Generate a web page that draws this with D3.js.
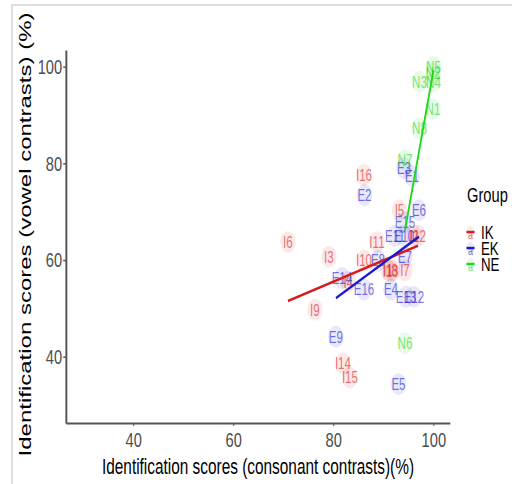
<!DOCTYPE html>
<html>
<head>
<meta charset="utf-8">
<script src="https://cdn.jsdelivr.net/npm/d3@7"></script>
<style>
  body { margin: 0; background: #fff; }
  svg { display: block; font-family: "Liberation Sans", Arial, sans-serif; }
</style>
</head>
<body>
<div id="chart"></div>
<script>
const groups = ['IK', 'EK', 'NE'];
const groupColors = ['#d91a1a', '#1a1acc', '#1ed81e'];

const ikIds = ['I1', 'I2', 'I3', 'I4', 'I5', 'I6', 'I7', 'I8', 'I9', 'I10', 'I11', 'I12', 'I13', 'I14', 'I15', 'I16'];
const ikConsonant = [90.9, 96.1, 79.1, 83.0, 93.2, 70.9, 94.3, 91.9, 76.3, 86.1, 88.7, 96.9, 91.4, 81.9, 83.3, 86.1];
const ikVowel = [57.9, 65.0, 60.7, 55.5, 70.3, 63.7, 57.9, 57.9, 49.7, 59.9, 63.7, 65.0, 57.7, 38.6, 35.7, 77.6];

const ekIds = ['E1', 'E2', 'E3', 'E4', 'E5', 'E6', 'E7', 'E8', 'E9', 'E10', 'E11', 'E12', 'E13', 'E14', 'E15', 'E16'];
const ekConsonant = [95.7, 86.2, 94.1, 91.5, 93.0, 97.1, 94.3, 88.9, 80.5, 94.1, 92.3, 96.1, 94.5, 81.7, 94.3, 86.1];
const ekVowel = [77.4, 73.4, 79.0, 53.9, 34.3, 70.3, 60.7, 59.9, 44.1, 65.0, 65.0, 52.4, 52.4, 56.3, 67.8, 53.9];

const neIds = ['N1', 'N2', 'N3', 'N4', 'N5', 'N6', 'N7', 'N8'];
const neConsonant = [99.9, 99.9, 97.2, 100, 100, 94.3, 94.3, 97.2];
const neVowel = [91.2, 98.6, 96.9, 96.9, 100, 42.8, 80.7, 87.2];

const xTicks = [40, 60, 80, 100];
const yTicks = [40, 60, 80, 100];

function linearFit(xs, ys) {
    const mx = d3.mean(xs), my = d3.mean(ys);
    const slope = d3.sum(xs, (x, i) => (x - mx) * (ys[i] - my)) / d3.sum(xs, x => (x - mx) ** 2);
    const icpt = my - slope * mx;
    const [x0, x1] = d3.extent(xs);
    return [[x0, icpt + slope * x0], [x1, icpt + slope * x1]];
}

class LabelScatter {
    constructor(config, data) {
        this.config = {
            parentElement: config.parentElement,
            containerWidth: 512,
            containerHeight: 484,
            squeeze: 0.7,   // the source picture is squashed horizontally
            plot: { left: 66, right: 450, top: 50, bottom: 423 }
        }
        this.data = data;
        this.initVis();
    }

    initVis() {
        let vis = this;
        const sx = vis.config.squeeze;
        const p = vis.config.plot;
        vis.vx = x => x / sx;

        vis.svg = d3.select(vis.config.parentElement)
            .append('svg')
            .attr('width', vis.config.containerWidth)
            .attr('height', vis.config.containerHeight);

        // light frame of the screenshot
        vis.svg.append('path')
            .attr('d', 'M12,484V5H512')
            .attr('fill', 'none')
            .attr('stroke', '#dedede')
            .attr('stroke-width', 2);

        vis.root = vis.svg.append('g').attr('transform', `scale(${sx},1)`);

        vis.xScale = d3.scaleLinear()
            .domain([26.54, 103.3])
            .range([vis.vx(p.left), vis.vx(p.right)]);

        vis.yScale = d3.scaleLinear()
            .domain([26.28, 103.45])
            .range([p.bottom, p.top]);

        vis.xAxis = d3.axisBottom(vis.xScale)
            .tickValues(xTicks)
            .tickSize(3)
            .tickSizeOuter(0)
            .tickPadding(6.5);

        vis.yAxis = d3.axisLeft(vis.yScale)
            .tickValues(yTicks)
            .tickSize(4)
            .tickSizeOuter(0)
            .tickPadding(1.5);

        vis.pointLayer = vis.root.append('g');
        vis.textLayer = vis.root.append('g');
        vis.lineLayer = vis.root.append('g');

        vis.xAxisG = vis.root.append('g')
            .attr('transform', `translate(0,${p.bottom})`);
        vis.yAxisG = vis.root.append('g')
            .attr('transform', `translate(${vis.vx(p.left)},0)`);

        vis.root.append('text')
            .attr('x', vis.vx((p.left + p.right) / 2))
            .attr('y', 474)
            .attr('text-anchor', 'middle')
            .style('font-size', '22px')
            .attr('fill', '#000')
            .text('Identification scores (consonant contrasts)(%)');

        vis.root.append('text')
            .attr('transform', `translate(${vis.vx(31)},${(p.top + p.bottom) / 2 - 2}) rotate(-90)`)
            .attr('text-anchor', 'middle')
            .style('font-size', '24px')
            .attr('fill', '#000')
            .text('Identification scores (vowel contrasts) (%)');

        vis.legend = vis.root.append('g');
    }

    updateVis() {
        let vis = this;
        vis.fits = vis.data.map(g => ({
            group: g.group,
            color: g.color,
            ends: linearFit(g.points.map(d => d.x), g.points.map(d => d.y))
        }));
        vis.points = vis.data.flatMap(g => g.points.map(d => ({ ...d, color: g.color })));
        vis.renderVis();
    }

    renderVis() {
        let vis = this;

        vis.pointLayer.selectAll('.pt')
            .data(vis.points)
            .join('circle')
            .attr('class', 'pt')
            .attr('cx', d => vis.xScale(d.x))
            .attr('cy', d => vis.yScale(d.y))
            .attr('r', 11)
            .attr('fill', d => d.color)
            .attr('fill-opacity', 0.1);

        vis.textLayer.selectAll('.lbl')
            .data(vis.points)
            .join('text')
            .attr('class', 'lbl')
            .attr('x', d => vis.xScale(d.x))
            .attr('y', d => vis.yScale(d.y))
            .attr('dy', '0.36em')
            .attr('text-anchor', 'middle')
            .style('font-size', '16.5px')
            .attr('fill', d => d.color)
            .attr('fill-opacity', 0.62)
            .text(d => d.id);

        vis.lineLayer.selectAll('.fit')
            .data(vis.fits)
            .join('line')
            .attr('class', 'fit')
            .attr('x1', d => vis.xScale(d.ends[0][0]))
            .attr('y1', d => vis.yScale(d.ends[0][1]))
            .attr('x2', d => vis.xScale(d.ends[1][0]))
            .attr('y2', d => vis.yScale(d.ends[1][1]))
            .attr('stroke', d => d.color)
            .attr('stroke-width', 2.6);

        vis.xAxisG.call(vis.xAxis)
            .call(g => g.select('.domain').attr('stroke', '#555').attr('stroke-width', 2))
            .call(g => g.selectAll('.tick line').attr('stroke', '#555').attr('stroke-width', 1.5))
            .call(g => g.selectAll('.tick text').attr('fill', '#4d4d4d').style('font-size', '21px')
                .attr('font-family', null));

        vis.yAxisG.call(vis.yAxis)
            .call(g => g.select('.domain').attr('stroke', '#555').attr('stroke-width', 2.8))
            .call(g => g.selectAll('.tick line').attr('stroke', '#555').attr('stroke-width', 1.5))
            .call(g => g.selectAll('.tick text').attr('fill', '#4d4d4d').style('font-size', '21px')
                .attr('font-family', null));

        // legend
        const rowY = [232, 248, 264];
        vis.legend.append('text')
            .attr('x', vis.vx(467))
            .attr('y', 202)
            .style('font-size', '21px')
            .attr('fill', '#000')
            .text('Group');

        const rows = vis.legend.selectAll('.key')
            .data(vis.data)
            .join('g')
            .attr('class', 'key')
            .attr('transform', (d, i) => `translate(0,${rowY[i]})`);

        rows.append('circle')
            .attr('cx', vis.vx(470.5))
            .attr('r', 6)
            .attr('fill', d => d.color)
            .attr('fill-opacity', 0.1);
        rows.append('text')
            .attr('x', vis.vx(470.5))
            .attr('dy', '0.5em')
            .attr('text-anchor', 'middle')
            .style('font-size', '13px')
            .attr('fill', d => d.color)
            .attr('fill-opacity', 0.62)
            .text('a');
        rows.append('line')
            .attr('x1', vis.vx(466.5))
            .attr('x2', vis.vx(474.5))
            .attr('stroke', d => d.color)
            .attr('stroke-width', 2.4);
        rows.append('text')
            .attr('x', vis.vx(481))
            .attr('dy', '0.36em')
            .style('font-size', '19px')
            .attr('fill', '#000')
            .text(d => d.group);
    }
}

const pack = (ids, xs, ys) => ids.map((id, i) => ({ id: id, x: xs[i], y: ys[i] }));
const chartData = [
    { group: groups[0], color: groupColors[0], points: pack(ikIds, ikConsonant, ikVowel) },
    { group: groups[1], color: groupColors[1], points: pack(ekIds, ekConsonant, ekVowel) },
    { group: groups[2], color: groupColors[2], points: pack(neIds, neConsonant, neVowel) }
];

const chart = new LabelScatter({ parentElement: '#chart' }, chartData);
chart.updateVis();
</script>
</body>
</html>
